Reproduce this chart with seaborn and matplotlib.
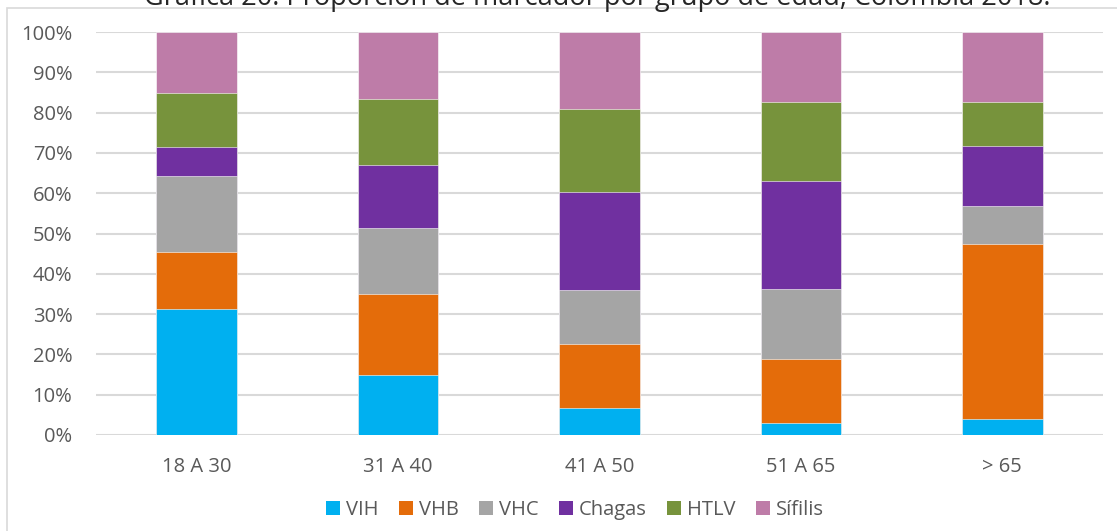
import pandas as pd
import numpy as np
import matplotlib.pyplot as plt
import seaborn as sns
from matplotlib.patches import Patch, Rectangle
from matplotlib.ticker import FuncFormatter

# Age groups and marker proportions (%)
age_groups = ["18 A 30", "31 A 40", "41 A 50", "51 A 65", "> 65"]
vih = [31.2, 14.9, 6.6, 3.1, 4.0]
vhb = [14.3, 20.0, 16.1, 15.8, 43.4]
vhc = [18.7, 16.4, 13.2, 17.4, 9.4]
chagas = [7.3, 15.6, 24.3, 26.8, 15.0]
htlv = [13.4, 16.5, 20.8, 19.5, 10.9]
sifilis = [15.1, 16.6, 19.0, 17.4, 17.3]

markers = ["VIH", "VHB", "VHC", "Chagas", "HTLV", "Sífilis"]
colors = ["#00B0F0", "#E46C0A", "#A5A5A5", "#7030A0", "#77933C", "#BE7CA8"]

df = pd.DataFrame({"grupo": age_groups, "VIH": vih, "VHB": vhb, "VHC": vhc,
                   "Chagas": chagas, "HTLV": htlv, "Sífilis": sifilis})

# cumulative tops, so each layer can be drawn over the next one
cum = df[markers].cumsum(axis=1)
cum["grupo"] = df["grupo"]

sns.set_style("white")
plt.rcParams['font.family'] = ['Open Sans', 'DejaVu Sans']

fig = plt.figure(figsize=(11.17, 5.31), dpi=100)
ax = fig.add_axes([96 / 1117, 1 - 435 / 531, (1103 - 96) / 1117, (435 - 32) / 531])

# light frame round the chart area, as in the source image
fig.patches.append(Rectangle((7 / 1117, -0.1), 1.2, 1 - 8 / 531 + 0.1,
                             transform=fig.transFigure, fill=False,
                             edgecolor="#d9d9d9", linewidth=1.2, zorder=0))

for marker, color in reversed(list(zip(markers, colors))):
    sns.barplot(data=cum, x="grupo", y=marker, color=color, width=0.4,
                saturation=1, edgecolor="white", linewidth=0.4, ax=ax, zorder=3)

ax.set_ylim(0, 100)
ax.set_xlim(-0.5, 4.5)
ax.set_yticks(np.arange(0, 101, 10))
ax.yaxis.set_major_formatter(FuncFormatter(lambda v, p: f"{int(v)}%"))
ax.set_xlabel("")
ax.set_ylabel("")
ax.grid(axis="y", color="#d9d9d9", linewidth=1.5, zorder=0)
ax.set_axisbelow(True)
for s in ax.spines.values():
    s.set_visible(False)
ax.tick_params(axis="y", length=0, pad=17, labelsize=14.5, labelcolor="#595959")
ax.tick_params(axis="x", length=0, pad=16, labelsize=14.5, labelcolor="#595959")

fig.text(0.535, 1 - 5 / 531, "Gráfica 20. Proporción de marcador por grupo de edad, Colombia 2018.",
         ha="center", va="baseline", fontsize=19.5, color="#262626")

handles = [Patch(facecolor=c, edgecolor="none", label=m) for m, c in zip(markers, colors)]
fig.legend(handles=handles, loc="center", bbox_to_anchor=(575 / 1117, 1 - 510 / 531),
           ncol=6, frameon=False, fontsize=14.5, handlelength=0.7, handleheight=0.7,
           handletextpad=0.3, columnspacing=1.0, labelcolor="#595959")

fig.savefig("out.png", dpi=100)
